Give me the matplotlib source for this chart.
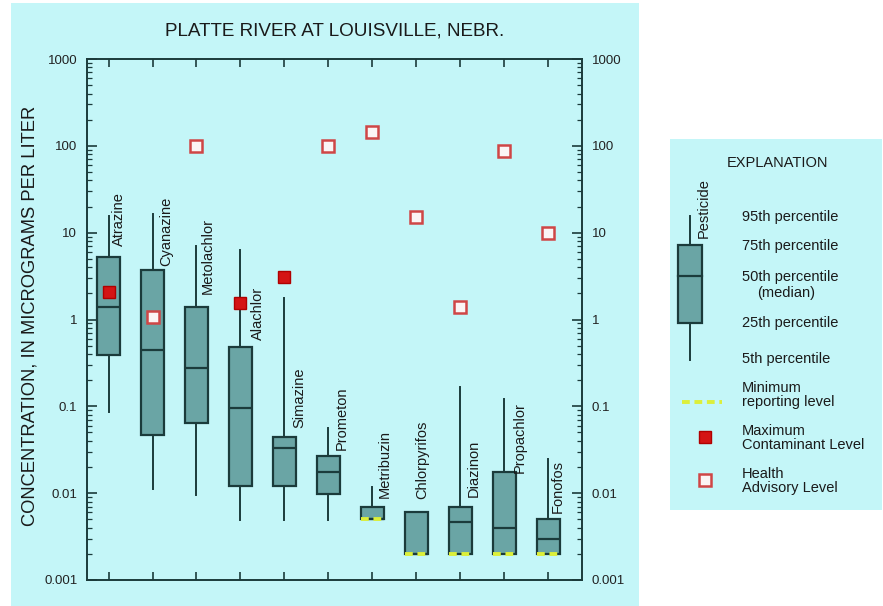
import numpy as np
import matplotlib
matplotlib.use("Agg")
import matplotlib.pyplot as plt
from matplotlib.patches import Rectangle
from matplotlib.ticker import FixedLocator, LogLocator, FuncFormatter, NullFormatter

plt.rcParams["font.family"] = ["Liberation Sans", "DejaVu Sans"]

# data (micrograms per liter)
pesticides = ["Atrazine", "Cyanazine", "Metolachlor", "Alachlor", "Simazine", "Prometon",
              "Metribuzin", "Chlorpyrifos", "Diazinon", "Propachlor", "Fonofos"]
p95 = [15.5, 16.6, 7.1, 6.3, 1.75, 0.056, 0.0117, 0.006, 0.168, 0.12, 0.025]
p75 = [5.3, 3.7, 1.4, 0.48, 0.044, 0.027, 0.0069, 0.006, 0.007, 0.0176, 0.005]
p50 = [1.39, 0.45, 0.278, 0.096, 0.033, 0.0175, 0.005, 0.002, 0.0046, 0.004, 0.003]
p25 = [0.39, 0.047, 0.065, 0.012, 0.012, 0.0098, 0.005, 0.002, 0.002, 0.002, 0.002]
p5 = [0.085, 0.0113, 0.0095, 0.0049, 0.0049, 0.0049, 0.005, 0.002, 0.002, 0.002, 0.002]
nan = np.nan
mrl = [nan, nan, nan, nan, nan, nan, 0.005, 0.002, 0.002, 0.002, 0.002]
mcl = [2.05, nan, nan, 1.53, 3.05, nan, nan, nan, nan, nan, nan]
hal = [nan, 1.07, 100, nan, nan, 100, 145, 15, 1.4, 88, 10]
ytick_vals = [0.001, 0.01, 0.1, 1, 10, 100, 1000]

# where the rotated names sit (top of text, x offset from box centre)
label_top = [29, 26, 14.8, 2.36, 0.283, 0.171, 0.053, 0.069, 0.041, 0.112, 0.024]
label_dx = [0.23, 0.32, 0.25, 0.39, 0.34, 0.30, 0.28, 0.14, 0.30, 0.36, 0.22]

CYAN = "#c4f6f8"
BOXFC = "#6aa5a5"
DARK = "#1b3b3b"
YELLOW = "#dcef3a"
RED = "#d41414"
HALRED = "#cf4646"

W, H = 883, 606
fig = plt.figure(figsize=(W / 100, H / 100), dpi=100)

# pixel-space layer for the two cyan panels and the explanation
bg = fig.add_axes([0, 0, 1, 1], zorder=0)
bg.set_xlim(0, W)
bg.set_ylim(H, 0)
bg.axis("off")
bg.add_patch(Rectangle((11, 3), 628, 603, fc=CYAN, ec="none"))
bg.add_patch(Rectangle((670, 139), 212, 371, fc=CYAN, ec="none"))

ax = fig.add_axes([87 / W, 1 - 580 / H, (582 - 87) / W, (580 - 59) / H], zorder=1)
ax.set_facecolor("none")

xpos = np.arange(1, len(pesticides) + 1)
stats = [dict(label=n, whislo=a, q1=b, med=c, q3=d, whishi=e, fliers=[])
         for n, a, b, c, d, e in zip(pesticides, p5, p25, p50, p75, p95)]
ax.bxp(stats, positions=xpos, widths=0.52, patch_artist=True, showcaps=False,
       showfliers=False, manage_ticks=False,
       boxprops=dict(facecolor=BOXFC, edgecolor=DARK, linewidth=1.6),
       medianprops=dict(color=DARK, linewidth=1.6),
       whiskerprops=dict(color=DARK, linewidth=1.4))

mrl_a = np.array(mrl)
ok = ~np.isnan(mrl_a)
ax.hlines(mrl_a[ok], xpos[ok] - 0.25, xpos[ok] + 0.25, colors=YELLOW,
          linestyles=(0, (2, 1.2)), linewidth=2.8, zorder=4)

ax.plot(xpos, mcl, "s", ms=8, mfc=RED, mec="#b00000", mew=1, zorder=5)
ax.plot(xpos, hal, "s", ms=8, mfc="#fbf4f4", mec=HALRED, mew=1.8, zorder=5)

for x, name, top, dx in zip(xpos, pesticides, label_top, label_dx):
    ax.text(x + dx, top, name, rotation=90, ha="center", va="top",
            fontsize=10.5, color="#1a1a1a")

ax.set_yscale("log")
ax.set_ylim(0.001, 1000)
ax.set_xlim(0.51, 11.77)
ax.set_xticks(xpos)
ax.tick_params(axis="x", which="both", direction="in", top=True, bottom=True,
               labelbottom=False, length=6, width=1.2, color=DARK)
ax.yaxis.set_major_locator(FixedLocator(ytick_vals))
ax.yaxis.set_minor_locator(LogLocator(base=10, subs=np.arange(2, 10), numticks=20))
ax.yaxis.set_major_formatter(FuncFormatter(lambda v, p: f"{v:g}"))
ax.yaxis.set_minor_formatter(NullFormatter())
ax.tick_params(axis="y", which="both", direction="in", left=True, right=True,
               labelleft=True, labelright=True, color=DARK, labelsize=9.5,
               labelcolor="#222222")
ax.tick_params(axis="y", which="major", length=7, width=1.2, pad=7)
ax.tick_params(axis="y", which="minor", length=3.5, width=0.9)
for s in ax.spines.values():
    s.set_color(DARK)
    s.set_linewidth(1.4)

fig.text(335 / W, 1 - 31 / H, "PLATTE RIVER AT LOUISVILLE, NEBR.", ha="center",
         va="center", fontsize=13.6, color="#1a1a1a")
fig.text(30 / W, 1 - 316 / H, "CONCENTRATION, IN MICROGRAMS PER LITER", rotation=90,
         ha="center", va="center", fontsize=13.2, color="#1a1a1a")

# explanation panel
fs = 10.5
bg.text(778, 163, "EXPLANATION", ha="center", va="center", fontsize=fs, color="#1a1a1a")
bg.add_patch(Rectangle((678, 245), 24, 78, fc=BOXFC, ec=DARK, lw=1.6))
bg.plot([678, 702], [276, 276], color=DARK, lw=1.6)
bg.plot([690, 690], [216, 245], color=DARK, lw=1.4)
bg.plot([690, 690], [323, 360], color=DARK, lw=1.4)
bg.text(704, 208, "Pesticide", rotation=90, ha="center", va="center", fontsize=fs,
        color="#1a1a1a")
for y, t in [(217, "95th percentile"), (246, "75th percentile"), (277, "50th percentile"),
             (323, "25th percentile"), (359, "5th percentile")]:
    bg.text(742, y, t, ha="left", va="center", fontsize=fs, color="#1a1a1a")
bg.text(757, 293, "(median)", ha="left", va="center", fontsize=fs, color="#1a1a1a")
bg.plot([682, 722], [402, 402], color=YELLOW, ls=(0, (2, 1.2)), lw=2.8)
bg.text(742, 395, "Minimum\nreporting level", ha="left", va="center", fontsize=fs,
        linespacing=1.05, color="#1a1a1a")
bg.plot(705, 437, "s", ms=8, mfc=RED, mec="#b00000", mew=1)
bg.text(742, 438, "Maximum\nContaminant Level", ha="left", va="center", fontsize=fs,
        linespacing=1.05, color="#1a1a1a")
bg.plot(705, 480, "s", ms=8, mfc="#fbf4f4", mec=HALRED, mew=1.8)
bg.text(742, 481, "Health\nAdvisory Level", ha="left", va="center", fontsize=fs,
        linespacing=1.05, color="#1a1a1a")

fig.savefig("out.png", dpi=100)
